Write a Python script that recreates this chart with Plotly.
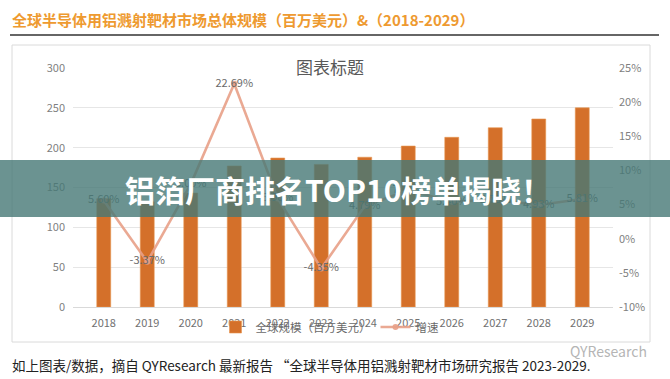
import plotly.graph_objects as go

years = ["2018", "2019", "2020", "2021", "2022", "2023", "2024", "2025", "2026", "2027", "2028", "2029"]
market = [136, 132, 143, 177, 187, 179, 188, 202, 213, 225, 236, 250]
growth = [5.60, -3.37, 8.0, 22.69, 5.9, -4.35, 4.79, 7.1, 5.4, 5.7, 4.93, 5.81]
left_ticks = [0, 50, 100, 150, 200, 250, 300]
right_ticks = [-10, -5, 0, 5, 10, 15, 20, 25]
right_tick_text = ["-10%", "-5%", "0%", "5%", "10%", "15%", "20%", "25%"]

W, H = 670, 379
L, R, T, B = 73, 613, 68, 307


def px_x(x):
    return (x - L) / (R - L)


def px_y(y):
    return (B - y) / (B - T)


FONT = "Noto Sans CJK SC"

fig = go.Figure()
fig.add_trace(go.Bar(
    x=years, y=market, name="全球规模（百万美元）",
    marker=dict(color="#D4702A", line=dict(color="#E8954F", width=0.6)),
    yaxis="y",
))
fig.add_trace(go.Scatter(
    x=years, y=growth, name="增速", yaxis="y2",
    mode="lines+markers+text",
    line=dict(color="rgba(232,160,135,0.9)", width=2.6),
    marker=dict(color="rgba(232,160,135,0.9)", size=6),
    text=[f"{g:.2f}%" for g in growth],
    textposition="middle center",
    textfont=dict(family=FONT, size=11, color="#6a6a6a"),
))

fig.update_layout(
    width=W, height=H,
    margin=dict(l=L, r=W - R, t=T, b=H - B, autoexpand=False),
    paper_bgcolor="white", plot_bgcolor="white",
    bargap=0.68,
    font=dict(family=FONT, color="#7f7f7f", size=11),
    xaxis=dict(type="category", showgrid=False, showline=True, linecolor="#D9D9D9",
               ticks="", tickfont=dict(size=11, color="#707070"), ticklabelstandoff=6),
    yaxis=dict(range=[0, 300], tickvals=left_ticks, showgrid=True, gridcolor="#E6E6E6",
               zeroline=False, ticks="", tickfont=dict(size=11, color="#7f7f7f"),
               ticklabelstandoff=7),
    yaxis2=dict(range=[-10, 25], tickvals=right_ticks, ticktext=right_tick_text, overlaying="y",
                side="right", showgrid=False, zeroline=False, ticks="",
                tickfont=dict(size=11, color="#7f7f7f"), ticklabelstandoff=5),
    legend=dict(orientation="h", x=px_x(330), xanchor="center", y=px_y(327), yanchor="middle",
                bgcolor="rgba(0,0,0,0)", font=dict(size=11.5, color="#6a6a6a"), itemwidth=30),
    showlegend=True,
)

shapes = [
    # chart frame
    dict(type="rect", xref="paper", yref="paper", x0=px_x(12), x1=px_x(650), y0=px_y(342), y1=px_y(45),
         line=dict(color="#DADADA", width=1), fillcolor="rgba(0,0,0,0)", layer="below"),
    # title underline
    dict(type="line", xref="paper", yref="paper", x0=px_x(10), x1=px_x(659), y0=px_y(35), y1=px_y(35),
         line=dict(color="#333333", width=1.5)),
    # banner
    dict(type="rect", xref="paper", yref="paper", x0=px_x(0), x1=px_x(670), y0=px_y(217), y1=px_y(160),
         line=dict(width=0), fillcolor="rgba(70,120,118,0.8)", layer="above"),
]
fig.update_layout(shapes=shapes)

annotations = [
    dict(text="<b>全球半导体用铝溅射靶材市场总体规模（百万美元）&（2018-2029）</b>", xref="paper", yref="paper",
         x=px_x(10), y=px_y(19.5), xanchor="left", yanchor="middle", showarrow=False,
         font=dict(family=FONT, size=15, color="#EE9A30")),
    dict(text="图表标题", xref="paper", yref="paper", x=px_x(330), y=px_y(66), xanchor="center",
         yanchor="middle", showarrow=False, font=dict(family=FONT, size=17, color="#595959")),
    dict(text="<b>铝箔厂商排名TOP10榜单揭晓！</b>", xref="paper", yref="paper", x=px_x(338), y=px_y(189),
         xanchor="center", yanchor="middle", showarrow=False,
         font=dict(family=FONT, size=30, color="white")),
    dict(text="如上图表/数据，摘自 QYResearch 最新报告 “全球半导体用铝溅射靶材市场研究报告 2023-2029.",
         xref="paper", yref="paper", x=px_x(10), y=px_y(365), xanchor="left", yanchor="middle",
         showarrow=False, font=dict(family=FONT, size=13.5, color="#222222")),
    dict(text="QYResearch", xref="paper", yref="paper", x=px_x(649), y=px_y(351), xanchor="right",
         yanchor="middle", showarrow=False, font=dict(family=FONT, size=14, color="#B5B5B5")),
]
fig.update_layout(annotations=annotations)

fig.write_html("out.html", config={"displayModeBar": False},
               post_script="document.body.style.margin='0';document.body.style.overflow='hidden';")
